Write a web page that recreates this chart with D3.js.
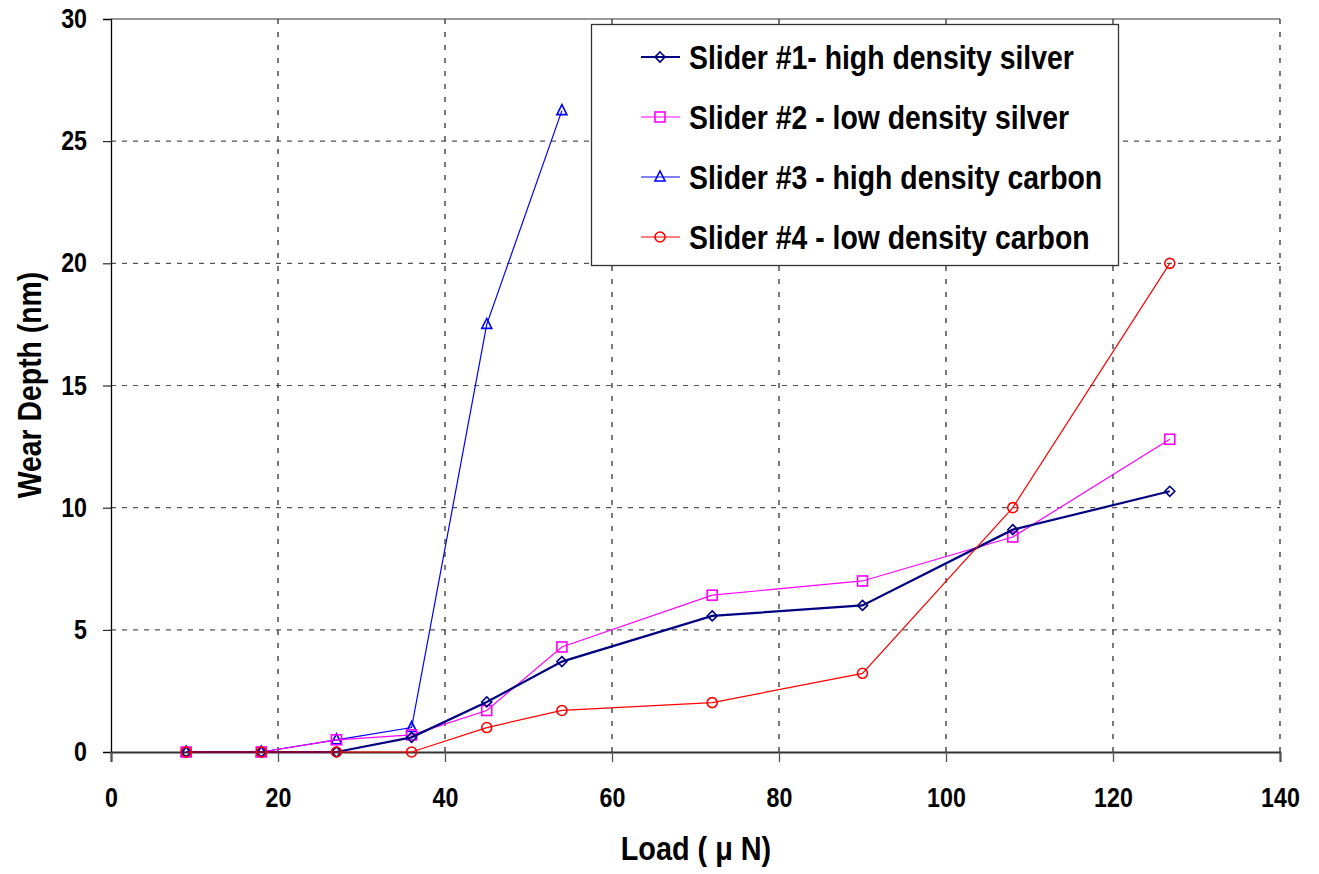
<!DOCTYPE html>
<html><head><meta charset="utf-8">
<script src="https://cdn.jsdelivr.net/npm/d3@7"></script>
<style>body{margin:0;background:#fff}</style>
</head><body>
<svg id="c" width="1319" height="874"></svg>
<script>
const loads = [9, 18, 27, 36, 45, 54, 72, 90, 108, 126.8];
const slider1 = [0, 0, 0, 0.6, 2.05, 3.7, 5.57, 6.0, 9.1, 10.67];
const slider2 = [0, 0, 0.5, 0.7, 1.7, 4.3, 6.42, 7.0, 8.8, 12.8];
const slider3 = [0, 0, 0.5, 1.0, 17.5, 26.25];
const slider4 = [0, 0, 0, 0, 1.0, 1.7, 2.02, 3.22, 10.0, 20.0];
const seriesNames = ["Slider #1- high density silver", "Slider #2 - low density silver", "Slider #3 - high density carbon", "Slider #4 - low density carbon"];
const xTicks = [0, 20, 40, 60, 80, 100, 120, 140];
const yTicks = [0, 5, 10, 15, 20, 25, 30];

const series = [
  {name: seriesNames[0], vals: slider1, color: "#000080", width: 2.2, sym: "diamond"},
  {name: seriesNames[1], vals: slider2, color: "#FF00FF", width: 1.2, sym: "square"},
  {name: seriesNames[2], vals: slider3, color: "#0000FF", width: 1.2, sym: "triangle"},
  {name: seriesNames[3], vals: slider4, color: "#FF0000", width: 1.2, sym: "circle"}
];

const svg = d3.select("#c");
const L = 111, R = 1280, T = 19, B = 752;
const x = d3.scaleLinear().domain([0, 140]).range([L, R]);
const y = d3.scaleLinear().domain([0, 30]).range([B, T]);
const font = "'Liberation Sans',Arial,sans-serif";
const NARROW = 0.86;
function narrow(sel) {
  sel.each(function() {
    const w = this.getComputedTextLength();
    d3.select(this).attr("textLength", w * NARROW).attr("lengthAdjust", "spacingAndGlyphs");
  });
}

// gridlines
svg.append("g").selectAll("line").data(yTicks.filter(d => d > 0 && d < 30)).join("line")
  .attr("x1", L).attr("x2", R).attr("y1", d => y(d)).attr("y2", d => y(d))
  .attr("stroke", "#555").attr("stroke-width", 1.2).attr("stroke-dasharray", "5,6");
svg.append("g").selectAll("line").data(xTicks.filter(d => d > 0)).join("line")
  .attr("x1", d => x(d)).attr("x2", d => x(d)).attr("y1", T).attr("y2", B)
  .attr("stroke", "#222").attr("stroke-width", 1.2).attr("stroke-dasharray", "5,8");
// top line
svg.append("line").attr("x1", L).attr("x2", R).attr("y1", T).attr("y2", T)
  .attr("stroke", "#333").attr("stroke-width", 1);

// axes
const yAxis = d3.axisLeft(y).tickValues(yTicks).tickSize(8).tickPadding(16).tickFormat(d3.format("d"));
const gy = svg.append("g").attr("transform", `translate(${L},0)`).call(yAxis);
gy.select(".domain").attr("stroke", "#000").attr("stroke-width", 1.3);
gy.selectAll(".tick line").attr("stroke", "#000");
gy.selectAll("text").attr("font-family", font).attr("font-weight", "bold").attr("font-size", 27).attr("fill", "#000").call(narrow);

const xAxis = d3.axisBottom(x).tickValues(xTicks).tickSize(10).tickPadding(26).tickFormat(d3.format("d"));
const gx = svg.append("g").attr("transform", `translate(0,${B})`).call(xAxis);
gx.select(".domain").attr("stroke", "#333").attr("stroke-width", 2);
gx.selectAll(".tick line").attr("stroke", "#555").attr("stroke-width", 1.3);
gx.selectAll("text").attr("font-family", font).attr("font-weight", "bold").attr("font-size", 27).attr("fill", "#000").call(narrow);

// axis titles
svg.append("text").attr("x", 696).attr("y", 860).attr("text-anchor", "middle")
  .attr("font-family", font).attr("font-weight", "bold").attr("font-size", 33.5).text("Load ( μ N)").call(narrow);
svg.append("text").attr("transform", "translate(41,385) rotate(-90)").attr("text-anchor", "middle")
  .attr("font-family", font).attr("font-weight", "bold").attr("font-size", 33).text("Wear Depth (nm)").call(narrow);

function marker(g, sym, cx, cy, color) {
  if (sym === "diamond") {
    g.append("path").attr("d", `M${cx},${cy-5}L${cx+5},${cy}L${cx},${cy+5}L${cx-5},${cy}Z`)
      .attr("fill", "none").attr("stroke", color).attr("stroke-width", 1.6);
  } else if (sym === "square") {
    g.append("rect").attr("x", cx-5).attr("y", cy-5).attr("width", 10).attr("height", 10)
      .attr("fill", "none").attr("stroke", color).attr("stroke-width", 1.6);
  } else if (sym === "triangle") {
    g.append("path").attr("d", `M${cx},${cy-6}L${cx+5},${cy+4}L${cx-5},${cy+4}Z`)
      .attr("fill", "none").attr("stroke", color).attr("stroke-width", 1.6);
  } else {
    g.append("circle").attr("cx", cx).attr("cy", cy).attr("r", 5)
      .attr("fill", "none").attr("stroke", color).attr("stroke-width", 1.6);
  }
}

const line = d3.line().x(d => x(d[0])).y(d => y(d[1]));
const order = [2, 1, 0, 3];
order.forEach(i => {
  const s = series[i];
  const pts = s.vals.map((v, j) => [loads[j], v]);
  const g = svg.append("g");
  g.append("path").datum(pts).attr("d", line).attr("fill", "none")
    .attr("stroke", s.color).attr("stroke-width", s.width);
  pts.forEach(p => marker(g, s.sym, x(p[0]), y(p[1]), s.color));
});

// legend
const lg = svg.append("g");
lg.append("rect").attr("x", 591.5).attr("y", 24.5).attr("width", 527).attr("height", 241)
  .attr("fill", "#fff").attr("stroke", "#333").attr("stroke-width", 1.3);
series.forEach((s, i) => {
  const cy = 57 + i * 60;
  lg.append("line").attr("x1", 641).attr("x2", 680).attr("y1", cy).attr("y2", cy)
    .attr("stroke", s.color).attr("stroke-width", s.width);
  marker(lg, s.sym, 660, cy, s.color);
  lg.append("text").attr("x", 689).attr("y", cy + 12).attr("font-family", font)
    .attr("font-weight", "bold").attr("font-size", 33).attr("fill", "#000").text(s.name).call(narrow);
});
</script>
</body></html>
